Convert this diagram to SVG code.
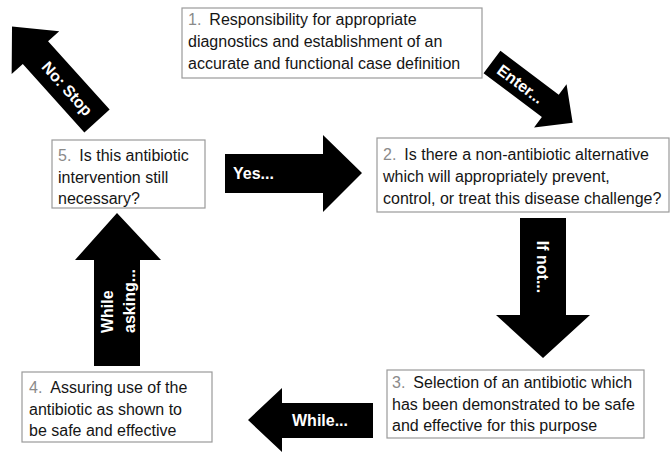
<svg xmlns="http://www.w3.org/2000/svg" width="672" height="453" viewBox="0 0 672 453">
<style>
.box{fill:#fff;stroke:#9a9a9a;stroke-width:1.2}
.t{font-family:"Liberation Sans",Arial,sans-serif;font-size:16px;fill:#151515}
.num{fill:#8a8a8a}
.arrow{fill:#000}
.lbl{font-family:"Liberation Sans",Arial,sans-serif;font-size:16px;font-weight:bold;fill:#fff}
</style>
<rect width="672" height="453" fill="#fff"/>
<g id="connectors">
  <g id="arrow-nostop" transform="translate(97,121) rotate(48)">
    <polygon class="arrow" points="0,-17 -92,-17 -92,-32 -127,0 -92,32 -92,17 0,17"/>
    <text class="lbl" x="-44" y="6" text-anchor="middle">No: Stop</text>
  </g>
  <g id="arrow-enter" transform="translate(492,62) rotate(37)">
    <polygon class="arrow" points="0,-14 73,-14 73,-27 101,0 73,27 73,14 0,14"/>
    <text class="lbl" x="36" y="6" text-anchor="middle">Enter...</text>
  </g>
  <g id="arrow-yes">
    <polygon class="arrow" points="225,154 323,154 323,135 362,173 323,212 323,193 225,193"/>
    <text class="lbl" x="233" y="179">Yes...</text>
  </g>
  <g id="arrow-ifnot">
    <polygon class="arrow" points="520,218 566,218 566,315 590,315 543,358 496,315 520,315"/>
    <text class="lbl" transform="translate(537,267) rotate(90)" text-anchor="middle">If not...</text>
  </g>
  <g id="arrow-while">
    <polygon class="arrow" points="373,403 373,438 282,438 282,452 248,420 282,388 282,403"/>
    <text class="lbl" x="292" y="426">While...</text>
  </g>
  <g id="arrow-asking">
    <polygon class="arrow" points="94,366 140,366 140,260 161,260 117,213 75,260 94,260"/>
    <text class="lbl" transform="translate(113,333) rotate(-90)">While</text>
    <text class="lbl" transform="translate(135,333) rotate(-90)">asking...</text>
  </g>
</g>
<g id="node1">
  <rect class="box" x="182" y="8" width="300" height="70"/>
  <text class="t" x="188" y="25"><tspan class="num">1.</tspan><tspan dx="8">Responsibility for appropriate</tspan></text>
  <text class="t" x="188" y="47">diagnostics and establishment of an</text>
  <text class="t" x="188" y="69">accurate and functional case definition</text>
</g>
<g id="node2">
  <rect class="box" x="377" y="138" width="292" height="74"/>
  <text class="t" x="383" y="160"><tspan class="num">2.</tspan><tspan dx="8">Is there a non-antibiotic alternative</tspan></text>
  <text class="t" x="383" y="182">which will appropriately prevent,</text>
  <text class="t" x="383" y="204">control, or treat this disease challenge?</text>
</g>
<g id="node3">
  <rect class="box" x="387" y="370" width="257" height="68"/>
  <text class="t" x="392" y="388"><tspan class="num">3.</tspan><tspan dx="8">Selection of an antibiotic which</tspan></text>
  <text class="t" x="392" y="410">has been demonstrated to be safe</text>
  <text class="t" x="392" y="431">and effective for this purpose</text>
</g>
<g id="node4">
  <rect class="box" x="22" y="372" width="190" height="70"/>
  <text class="t" x="29" y="393"><tspan class="num">4.</tspan><tspan dx="8">Assuring use of the</tspan></text>
  <text class="t" x="29" y="415">antibiotic as shown to</text>
  <text class="t" x="29" y="436">be safe and effective</text>
</g>
<g id="node5">
  <rect class="box" x="52" y="140" width="153" height="68"/>
  <text class="t" x="58" y="161"><tspan class="num">5.</tspan><tspan dx="8">Is this antibiotic</tspan></text>
  <text class="t" x="58" y="183">intervention still</text>
  <text class="t" x="58" y="204">necessary?</text>
</g>
</svg>
